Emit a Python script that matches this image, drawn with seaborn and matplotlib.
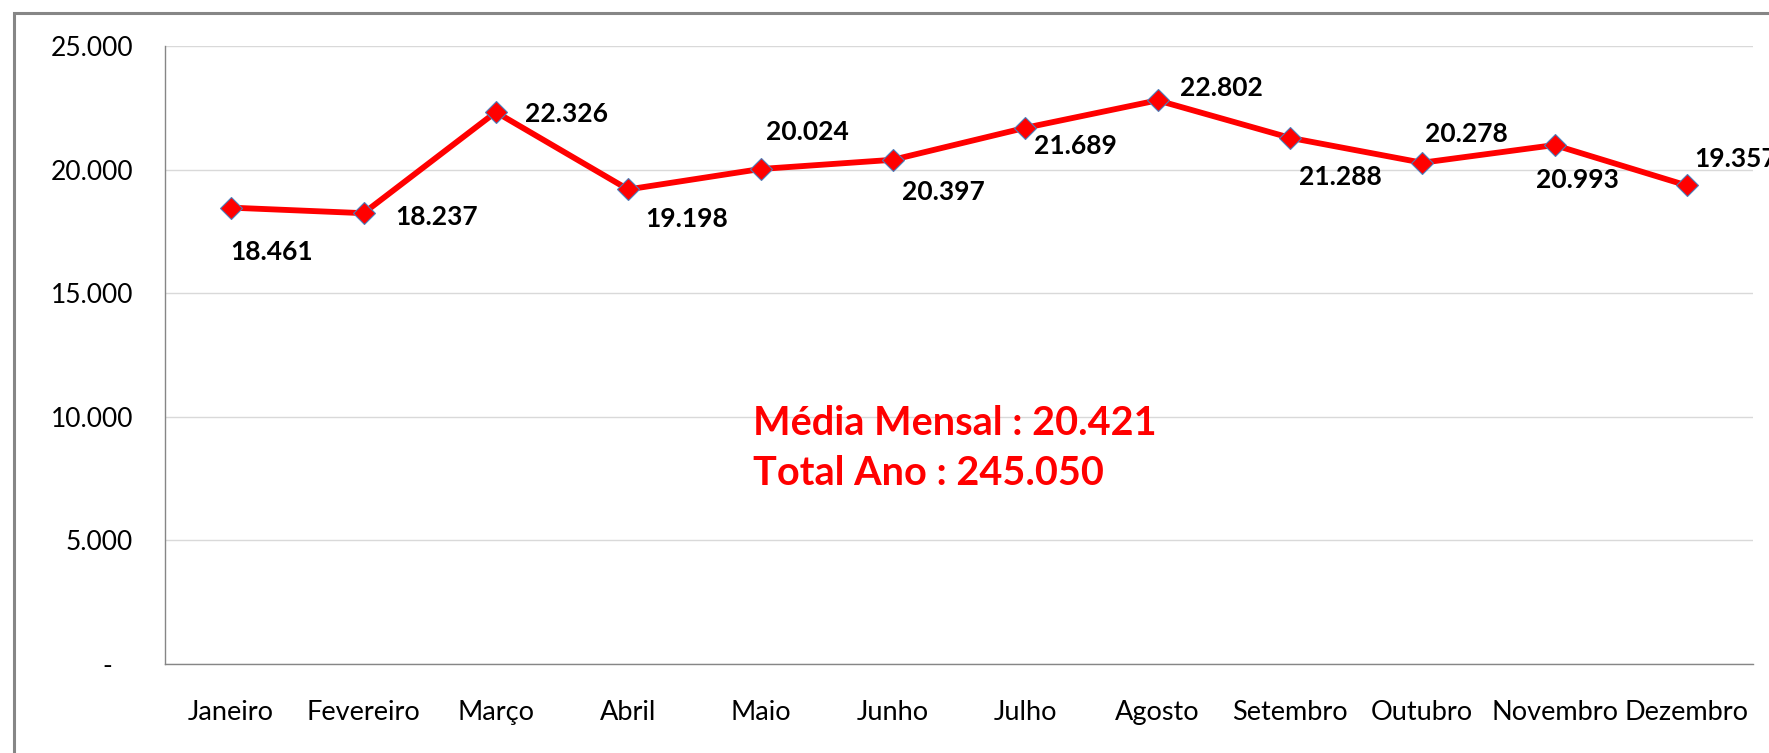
import matplotlib
matplotlib.use("Agg")
import matplotlib.pyplot as plt
import matplotlib.patches as mpatches
import numpy as np
import pandas as pd
import seaborn as sns

# ==========================================
# DADOS
# ==========================================
meses = [
    "Janeiro", "Fevereiro", "Março", "Abril", "Maio", "Junho",
    "Julho", "Agosto", "Setembro", "Outubro", "Novembro", "Dezembro",
]
valores = [
    18461, 18237, 22326, 19198, 20024, 20397,
    21689, 22802, 21288, 20278, 20993, 19357,
]
yticks = [0, 5000, 10000, 15000, 20000, 25000]

# deslocamento (px) dos rotulos de dados em relacao ao marcador
label_dx = [40, 73, 71, 58, 47, 51, 50, 64, 51, 44, 23, 49]
label_dy = [-42, -2, 0, -28, 39, -30, -16, 14, -37, 31, -33, 28]


def fmt_br(v):
    return f"{v:,}".replace(",", ".")


W, H = 1769, 753

sns.set_style("white")
plt.rcParams["font.family"] = ["Lato", "DejaVu Sans"]

df = pd.DataFrame({"mes": meses, "valor": valores})

fig = plt.figure(figsize=(W / 100, H / 100), dpi=100)
ax = fig.add_axes([165 / W, 1 - 664 / H, (1753 - 165) / W, (664 - 46) / H])

sns.lineplot(
    data=df,
    x="mes",
    y="valor",
    sort=False,
    color="#ff0000",
    linewidth=4.2,
    marker="D",
    markersize=11,
    markerfacecolor="#ff0000",
    markeredgecolor="#4a7ebb",
    markeredgewidth=0.8,
    ax=ax,
    zorder=3,
)

ax.set_xlim(-0.5, len(meses) - 0.5)
ax.set_ylim(0, 25000)
ax.set_xlabel("")
ax.set_ylabel("")

# grade e eixos
ax.set_yticks(yticks)
ax.set_yticklabels(["-   "] + [fmt_br(t) for t in yticks[1:]])
ax.yaxis.grid(True, color="#d9d9d9", linewidth=1)
ax.xaxis.grid(False)
ax.set_axisbelow(True)
for side in ["top", "right"]:
    ax.spines[side].set_visible(False)
for side in ["left", "bottom"]:
    ax.spines[side].set_color("#868686")
    ax.spines[side].set_linewidth(1.0)

ax.set_xticks(range(len(meses)))
ax.set_xticklabels(meses)
ax.set_xticks(np.arange(-0.5, len(meses), 1), minor=True)
ax.tick_params(axis="x", which="major", length=0, pad=26, labelsize=19.5, colors="black")
ax.tick_params(axis="x", which="minor", length=7, width=1, color="#868686", direction="out")
ax.tick_params(axis="y", which="major", length=7, width=1, color="#868686",
               direction="out", pad=16, labelsize=19, labelcolor="black")

# rotulos de dados
for i, v in enumerate(valores):
    ax.annotate(
        fmt_br(v),
        (i, v),
        xytext=(label_dx[i], label_dy[i]),
        textcoords="offset pixels",
        ha="center",
        va="center_baseline",
        fontsize=19,
        fontweight="bold",
        color="black",
        annotation_clip=False,
    )

# media e total
media = round(np.mean(valores))
total = sum(valores)
ax.text(3.94, 9264, f"Média Mensal : {fmt_br(media)}", color="#ff0000",
        fontsize=28.5, fontweight="bold", va="baseline", ha="left")
ax.text(3.94, 7241, f"Total Ano : {fmt_br(total)}", color="#ff0000",
        fontsize=28.5, fontweight="bold", va="baseline", ha="left")

# moldura externa do grafico
fig.patches.append(
    mpatches.Rectangle(
        (13.5 / W, -0.1), 2, 1 - 13.5 / H + 0.1,
        transform=fig.transFigure, fill=False,
        edgecolor="#868686", linewidth=2.2,
    )
)

fig.savefig("out.png", dpi=100)
plt.close(fig)
